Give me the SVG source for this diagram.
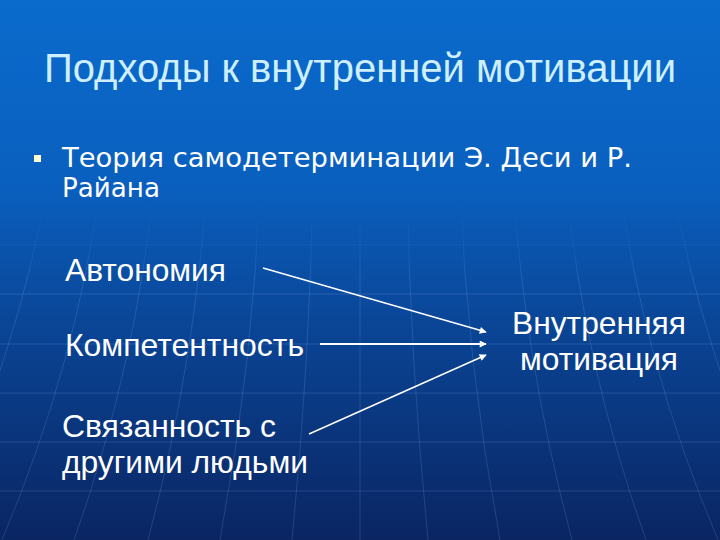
<svg xmlns="http://www.w3.org/2000/svg" width="720" height="540" viewBox="0 0 720 540">
<defs>
<linearGradient id="bg" x1="0" y1="0" x2="0" y2="1">
<stop offset="0" stop-color="#0a6bcc"/>
<stop offset="0.35" stop-color="#0a5fbe"/>
<stop offset="0.6" stop-color="#0a4596"/>
<stop offset="1" stop-color="#0a2562"/>
</linearGradient>
<linearGradient id="fade" x1="0" y1="0" x2="0" y2="1">
<stop offset="0" stop-color="#000" stop-opacity="0"/>
<stop offset="0.3" stop-color="#fff" stop-opacity="1"/>
<stop offset="1" stop-color="#fff" stop-opacity="1"/>
</linearGradient>
<mask id="m"><rect x="0" y="170" width="720" height="370" fill="url(#fade)"/></mask>
<marker id="ah" viewBox="0 0 10 10" refX="9" refY="5" markerWidth="10" markerHeight="7" markerUnits="userSpaceOnUse" orient="auto">
<path d="M0,0 L10,5 L0,10 z" fill="#ffffff"/>
</marker>
<style>
.lbl{font-family:"Liberation Sans",Arial,sans-serif;fill:#ffffff;font-size:32px}
.bul{font-family:"DejaVu Sans",Verdana,sans-serif;fill:#ffffff;font-size:27px}
.ttl{font-family:"Liberation Sans",Arial,sans-serif;fill:#cdefff;font-size:40px}
.grid{stroke:#8fc4ff;stroke-opacity:0.18;stroke-width:1;fill:none}
.conn{stroke:#ffffff;fill:none;marker-end:url(#ah)}
</style>
</defs>
<rect width="720" height="540" fill="url(#bg)"/>
<g id="grid" class="grid" mask="url(#m)">
<path d="M0,196 H720 M0,245 H720 M0,294 H720 M0,344 H720 M0,393 H720 M0,442 H720 M0,491 H720"/>
<path d="M360,180 V540"/>
<path d="M407,180 Q410,360 428,540 M313,180 Q310,360 292,540"/>
<path d="M460,180 Q466,360 500,540 M260,180 Q254,360 220,540"/>
<path d="M513,180 Q524,360 572,540 M207,180 Q196,360 148,540"/>
<path d="M566,180 Q582,360 646,540 M154,180 Q138,360 74,540"/>
<path d="M619,180 Q642,360 718,540 M101,180 Q78,360 2,540"/>
<path d="M672,180 Q702,360 790,540 M48,180 Q18,360 -70,540"/>
</g>
<g id="title"><text class="ttl" x="44" y="82" textLength="632" lengthAdjust="spacingAndGlyphs">Подходы к внутренней мотивации</text></g>
<g id="bullet">
<rect x="34" y="155" width="7" height="7" fill="#ffffcc"/>
<text class="bul" x="62" y="167" textLength="570" lengthAdjust="spacingAndGlyphs">Теория самодетерминации Э. Деси и Р.</text>
<text class="bul" x="62" y="197" textLength="98" lengthAdjust="spacingAndGlyphs">Райана</text>
</g>
<g id="autonomy"><text class="lbl" x="65" y="281" textLength="161" lengthAdjust="spacingAndGlyphs">Автономия</text></g>
<g id="competence"><text class="lbl" x="65" y="356" textLength="239" lengthAdjust="spacingAndGlyphs">Компетентность</text></g>
<g id="relatedness">
<text class="lbl" x="62" y="437" textLength="214" lengthAdjust="spacingAndGlyphs">Связанность с</text>
<text class="lbl" x="62" y="473" textLength="246" lengthAdjust="spacingAndGlyphs">другими людьми</text>
</g>
<g id="intrinsic">
<text class="lbl" x="512" y="334" textLength="174" lengthAdjust="spacingAndGlyphs">Внутренняя</text>
<text class="lbl" x="520" y="370" textLength="158" lengthAdjust="spacingAndGlyphs">мотивация</text>
</g>
<g id="connectors">
<line class="conn" x1="263" y1="268" x2="486" y2="332" stroke-width="1.5"/>
<line class="conn" x1="320" y1="344" x2="486" y2="344" stroke-width="2"/>
<line class="conn" x1="309" y1="434" x2="486" y2="355" stroke-width="1.5"/>
</g>
</svg>
